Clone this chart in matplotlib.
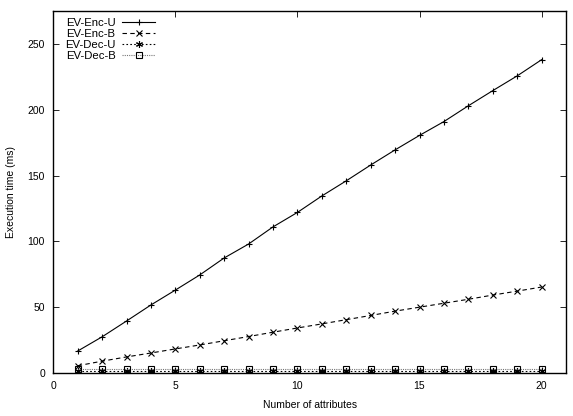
import matplotlib
matplotlib.use("Agg")
import matplotlib.pyplot as plt

plt.rcParams['font.family'] = ['Liberation Sans', 'DejaVu Sans']

# number of attributes
attrs = list(range(1, 21))

# execution times (ms)
enc_u = [16.7, 27.5, 39.5, 51.7, 63.0, 74.5, 87.4, 98.0, 111.0, 122.0,
         134.5, 146.0, 158.0, 169.5, 180.5, 191.0, 203.0, 214.5, 225.7, 238.0]
enc_b = [5.5, 9.0, 12.2, 15.2, 18.3, 21.3, 24.5, 27.7, 31.0, 34.2,
         37.3, 40.5, 43.7, 47.0, 50.0, 53.0, 56.0, 59.2, 62.2, 65.3]
dec_u = [1.5] * 20
dec_b = [3.2] * 20

fig = plt.figure(figsize=(5.73, 4.16), dpi=100)
ax = fig.add_axes([53.3 / 573, 43 / 416, (566 - 53.3) / 573, (373 - 11) / 416])

ax.plot(attrs, enc_u, color='black', lw=0.8, ls='-', marker='+', ms=5, mew=0.8,
        label='EV-Enc-U')
ax.plot(attrs, enc_b, color='black', lw=0.8, ls=(0, (4, 3)), marker='x', ms=4, mew=0.8,
        label='EV-Enc-B')
ax.plot(attrs, dec_u, color='black', lw=0.8, ls=(0, (1.5, 2)), marker=(6, 2, 0), ms=5,
        mew=0.8, label='EV-Dec-U')
ax.plot(attrs, dec_b, color='#777777', lw=0.8, ls=(0, (1, 1)), marker='s', ms=4.5,
        mfc='none', mec='black', mew=0.8, label='EV-Dec-B')

ax.set_xlim(0, 21)
ax.set_ylim(0, 275)
ax.set_xticks([0, 5, 10, 15, 20])
ax.set_yticks([0, 50, 100, 150, 200, 250])
ax.tick_params(direction='in', length=4, width=0.6, top=True, right=True,
               labelsize=7.5, pad=6, colors='black')
for s in ax.spines.values():
    s.set_linewidth(1.0)

ax.set_xlabel('Number of attributes', fontsize=7.5, labelpad=6)
ax.set_ylabel('Execution time (ms)', fontsize=7.5, labelpad=8)

# markerfirst=False gives right-aligned labels, gnuplot style
ax.legend(loc='upper right', frameon=False, markerfirst=False, fontsize=8.2,
          handlelength=2.9, handletextpad=0.6, labelspacing=0.08,
          borderaxespad=0.0, bbox_to_anchor=(0.208, 0.993))

fig.savefig('out.png', dpi=100)
